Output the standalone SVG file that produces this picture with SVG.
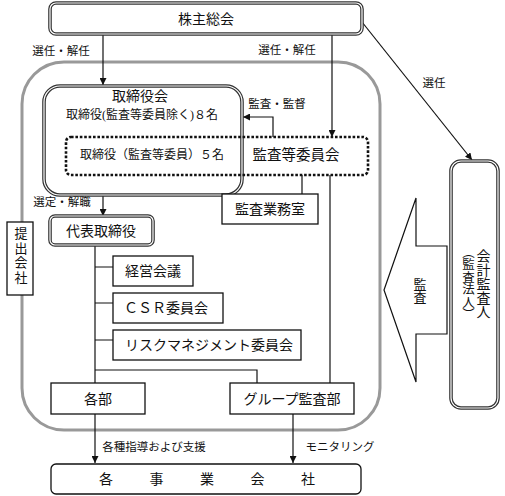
<svg xmlns="http://www.w3.org/2000/svg" width="505" height="496" viewBox="0 0 505 496">
<style>
text{font-family:"Liberation Serif","Noto Sans CJK JP",serif;fill:#111;dominant-baseline:central;text-anchor:middle}
.t14{font-size:14px}
.t12{font-size:12px}
.t11{font-size:11.5px}
.dbl-o{fill:#fff;stroke:#333;stroke-width:3.6}
.dbl-i{fill:none;stroke:#fff;stroke-width:1.2}
.box{fill:#fff;stroke:#111;stroke-width:1.3}
.ln{fill:none;stroke:#111;stroke-width:1.2}
.vt{writing-mode:vertical-rl}
</style>
<defs>
<marker id="ah" viewBox="0 0 10 10" refX="10" refY="5" markerWidth="7" markerHeight="7" orient="auto" markerUnits="userSpaceOnUse">
<path d="M0,0 L10,5 L0,10 z" fill="#111"/>
</marker>
</defs>

<rect id="company-frame" x="22" y="62" width="358" height="368" rx="42" fill="none" stroke="#999" stroke-width="3"/>

<g id="connectors">
<path class="ln" d="M103,34 V85" marker-end="url(#ah)"/>
<path class="ln" d="M332,34 V137" marker-end="url(#ah)"/>
<path class="ln" d="M362,22 L472,160" marker-end="url(#ah)"/>
<path class="ln" d="M273,137 V117 H243" marker-end="url(#ah)"/>
<path class="ln" d="M103,195 V216" marker-end="url(#ah)"/>
<path class="ln" d="M302,175 V194"/>
<path class="ln" d="M330,175 V383"/>
<path class="ln" d="M95,245 V383"/>
<path class="ln" d="M95,267 H113 M95,303 H113 M95,340 H113"/>
<path class="ln" d="M95,370 H257 V383"/>
<path class="ln" d="M95,414 V463" marker-end="url(#ah)"/>
<path class="ln" d="M293,414 V463" marker-end="url(#ah)"/>
<text class="t11" x="61" y="51">選任・解任</text>
<text class="t11" x="287" y="50">選任・解任</text>
<text class="t11" x="434" y="83">選任</text>
<text class="t11" x="277" y="104">監査・監督</text>
<text class="t11" x="62" y="202">選定・解職</text>
<text class="t11" x="154" y="447">各種指導および支援</text>
<text class="t11" x="340" y="447">モニタリング</text>
</g>

<g id="shareholders">
<rect class="dbl-o" x="50" y="3" width="312" height="31" rx="6"/>
<rect class="dbl-i" x="50" y="3" width="312" height="31" rx="6"/>
<text class="t14" x="206" y="19">株主総会</text>
</g>

<g id="board">
<rect class="dbl-o" x="44" y="86" width="198" height="109" rx="16"/>
<rect class="dbl-i" x="44" y="86" width="198" height="109" rx="16"/>
<text class="t14" x="140" y="96">取締役会</text>
<text class="t12" x="142" y="115">取締役(監査等委員除く)８名</text>
</g>

<g id="audit-committee">
<rect x="66" y="137" width="302" height="38" rx="5" fill="none" stroke="#111" stroke-width="2.6" stroke-dasharray="2.6 1.8"/>
<text class="t12" x="152" y="155">取締役（監査等委員）５名</text>
<text x="296" y="155" style="font-size:14.5px">監査等委員会</text>
</g>

<g id="audit-office">
<rect class="box" x="222" y="194" width="96" height="30"/>
<text class="t14" x="270" y="209">監査業務室</text>
</g>

<g id="submitting-company">
<rect class="box" x="7" y="222" width="26" height="73"/>
<text class="vt" x="20" y="256" style="font-size:13px;letter-spacing:1.7px">提出会社</text>
</g>

<g id="representative">
<rect class="dbl-o" x="50" y="216" width="103" height="29" rx="5"/>
<rect class="dbl-i" x="50" y="216" width="103" height="29" rx="5"/>
<text class="t14" x="101" y="231">代表取締役</text>
</g>

<g id="management-meeting">
<rect class="box" x="113" y="256" width="80" height="30"/>
<text class="t14" x="153" y="271">経営会議</text>
</g>

<g id="csr-committee">
<rect class="box" x="113" y="293" width="110" height="30"/>
<text class="t14" x="166" y="308">ＣＳＲ委員会</text>
</g>

<g id="risk-committee">
<rect class="box" x="113" y="330" width="188" height="30"/>
<text class="t14" x="209" y="345">リスクマネジメント委員会</text>
</g>

<g id="departments">
<rect class="box" x="51" y="383" width="94" height="31"/>
<text class="t14" x="98" y="399">各部</text>
</g>

<g id="group-audit">
<rect class="box" x="230" y="383" width="124" height="31"/>
<text class="t14" x="292" y="399">グループ監査部</text>
</g>

<g id="subsidiaries">
<rect x="51" y="464" width="310" height="30" rx="5" fill="#fff" stroke="#111" stroke-width="1.3"/>
<text class="t14" x="99" y="479" style="text-anchor:start;letter-spacing:36.5px">各事業会社</text>
</g>

<g id="audit-arrow">
<polygon points="447,246 416,246 416,198 384,290 416,382 416,334 447,334" fill="#fff" stroke="#111" stroke-width="1.2"/>
<text class="vt" x="419" y="291" style="font-size:13px">監査</text>
</g>

<g id="accounting-auditor">
<rect class="dbl-o" x="451" y="161" width="47" height="247" rx="10"/>
<rect class="dbl-i" x="451" y="161" width="47" height="247" rx="10"/>
<text class="vt t14" x="482" y="284">会計監査人</text>
<text class="vt" x="467" y="283" style="font-size:12.5px">（監査法人）</text>
</g>
</svg>
